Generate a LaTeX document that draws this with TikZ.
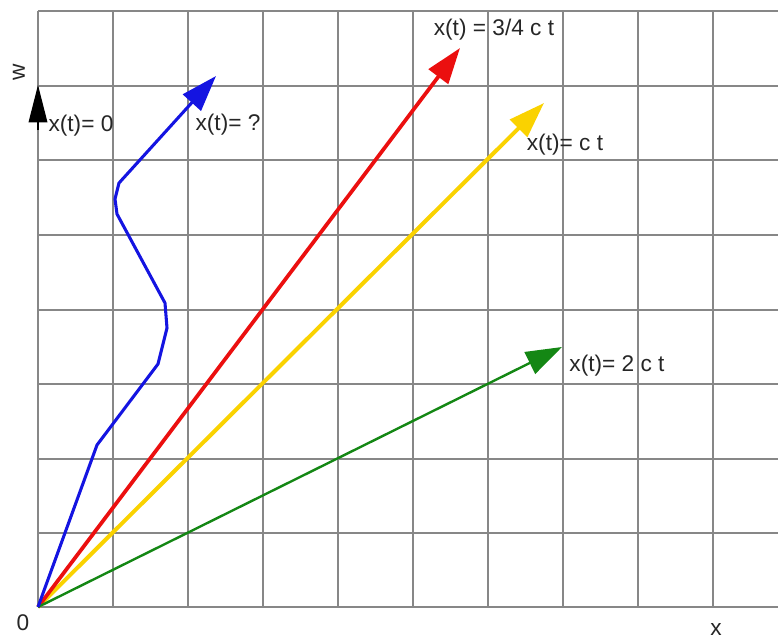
\documentclass[tikz,border=0pt]{standalone}
\usepackage{fontspec}
\setmainfont{Liberation Sans}
\usetikzlibrary{arrows.meta}
\definecolor{vblue}{RGB}{20,20,225}
\definecolor{vred}{RGB}{235,15,15}
\definecolor{vyellow}{RGB}{250,210,0}
\definecolor{vgreen}{RGB}{20,135,20}
\definecolor{gridgray}{RGB}{135,135,135}
\begin{document}
\begin{tikzpicture}[x=0.75pt,y=-0.75pt,
  gridline/.style={draw=gridgray, line width=1.1pt},
  vec/.style={-{Triangle[length=27pt,width=18pt]}},
  lbl/.style={font=\fontsize{17}{19}\selectfont, inner sep=0pt, text=black!85}]
\useasboundingbox (0,0) rectangle (778,640);
\foreach \x in {38,113,188,263,338,413,488,563,638,713}
  \draw[gridline] (\x,11) -- (\x,607);
\foreach \y in {11,86,160,235,310,384,459,533,607}
  \draw[gridline] (38,\y) -- (778,\y);

\coordinate (O) at (38,607);
\coordinate (wtip) at (38,85);
\coordinate (wbase) at (38,130);
\coordinate (btip) at (216,76);
\coordinate (rtip) at (460,48);
\coordinate (ytip) at (544,103);
\coordinate (gtip) at (562,347);

\draw[-{Triangle[length=28pt,width=14pt]}, black, line width=1pt] (wbase) -- (wtip);
\draw[vec, vyellow, line width=3pt] (O) -- (ytip);
\draw[vec, vred, line width=2.8pt] (O) -- (rtip);
\draw[vec, vgreen, line width=1.8pt] (O) -- (gtip);
\draw[vec, vblue, line width=2.3pt, line join=round]
  (O) -- (97,445) -- (158,364) -- (167,328) -- (165,303) -- (117,214)
  -- (115,199) -- (119,183) -- (btip);

\node[lbl] (l0) at (81,126) {x(t)= 0};
\node[lbl] (lq) at (228,125) {x(t)= ?};
\node[lbl] (l34) at (494,30) {x(t) = 3/4 c t};
\node[lbl] (lc) at (565,145) {x(t)= c t};
\node[lbl] (l2) at (617,366) {x(t)= 2 c t};
\node[lbl] (zero) at (23,623) {0};
\node[lbl] (xl) at (716,629) {x};
\node[lbl, rotate=90] (wl) at (19,72) {w};
\end{tikzpicture}
\end{document}
